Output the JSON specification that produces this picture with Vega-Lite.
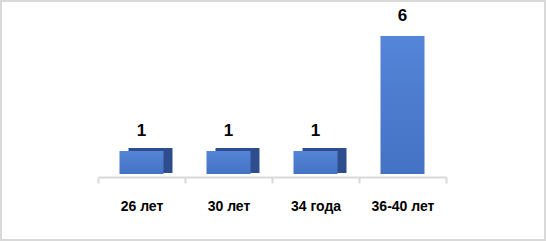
{
  "$schema": "https://vega.github.io/schema/vega-lite/v6.json",
  "width": 546,
  "height": 241,
  "autosize": {"type": "none"},
  "padding": 0,
  "background": "white",
  "config": {
    "view": {"stroke": "#d9d9d9", "strokeWidth": 4},
    "font": "Liberation Sans"
  },
  "data": {
    "values": [
      {"cat": "26 лет", "value": 1},
      {"cat": "30 лет", "value": 1},
      {"cat": "34 года", "value": 1},
      {"cat": "36-40 лет", "value": 6}
    ]
  },
  "encoding": {
    "x": {
      "field": "cat",
      "type": "nominal",
      "sort": null,
      "scale": {"type": "band", "range": [98, 446], "paddingInner": 0, "paddingOuter": 0},
      "axis": {
        "title": null,
        "orient": "bottom",
        "offset": -64,
        "labelAngle": 0,
        "tickBand": "extent",
        "domainColor": "#d9d9d9",
        "domainWidth": 2,
        "tickColor": "#d9d9d9",
        "tickWidth": 2,
        "tickSize": 6,
        "labelFont": "Liberation Sans",
        "labelFontWeight": "bold",
        "labelFontSize": 14,
        "labelColor": "#000000",
        "labelPadding": 16
      }
    },
    "y": {
      "field": "value",
      "type": "quantitative",
      "scale": {"domain": [-2.913, 7.565], "nice": false, "zero": false},
      "axis": null
    }
  },
  "layer": [
    {
      "transform": [{"filter": "datum.value < 6"}],
      "mark": {"type": "bar", "width": 44, "xOffset": 9, "yOffset": -3, "y2Offset": -1, "color": "#2e4d8c"},
      "encoding": {"y2": {"datum": 0}}
    },
    {
      "mark": {
        "type": "bar",
        "width": 44,
        "color": {
          "gradient": "linear",
          "x1": 0, "y1": 0, "x2": 0, "y2": 1,
          "stops": [
            {"offset": 0, "color": "#5585d8"},
            {"offset": 1, "color": "#4472c4"}
          ]
        }
      },
      "encoding": {"y2": {"datum": 0}}
    },
    {
      "mark": {
        "type": "text",
        "dy": -20,
        "baseline": "middle",
        "font": "Liberation Sans",
        "fontWeight": "bold",
        "fontSize": 17,
        "color": "#000000"
      },
      "encoding": {"text": {"field": "value", "type": "quantitative"}}
    }
  ]
}
